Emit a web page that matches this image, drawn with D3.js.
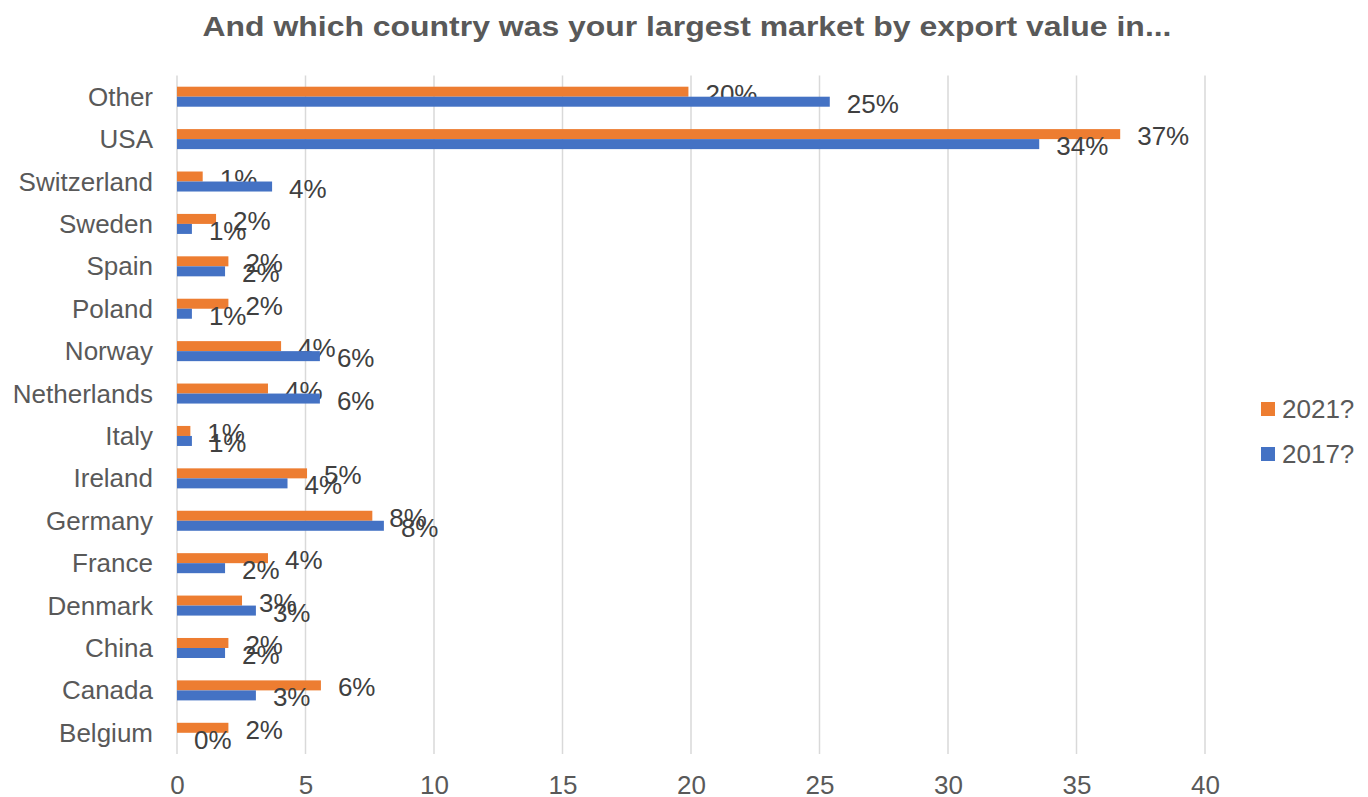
<!DOCTYPE html>
<html>
<head>
<meta charset="utf-8">
<script src="https://cdn.jsdelivr.net/npm/d3@7"></script>
<style>
    body { margin: 0; background: #fff; }
    text { font-family: "Liberation Sans", Arial, sans-serif; }
</style>
</head>
<body>
<script>
var countries = ["Other", "USA", "Switzerland", "Sweden", "Spain", "Poland", "Norway",
                 "Netherlands", "Italy", "Ireland", "Germany", "France", "Denmark",
                 "China", "Canada", "Belgium"];
var seriesNames = ["2021?", "2017?"];
var values2021 = [19.9, 36.7, 1.0, 1.52, 2.0, 2.0, 4.05, 3.54, 0.52, 5.06, 7.6, 3.54, 2.53, 2.0, 5.6, 2.0];
var values2017 = [25.4, 33.55, 3.7, 0.58, 1.87, 0.58, 5.56, 5.56, 0.58, 4.3, 8.05, 1.87, 3.07, 1.87, 3.07, 0];
var xTicks = [0, 5, 10, 15, 20, 25, 30, 35, 40];
var colors = ["#ED7D31", "#4472C4"];

(function() {
    var width = 1368,
        height = 797,
        plotLeft = 177,
        plotRight = 1205,
        plotTop = 75.5,
        plotBottom = 754,
        labelGap = 17,
        textColor = "#595959",
        labelColor = "#404040";

    var svg = d3.select("body").append("svg")
                .attr("width", width)
                .attr("height", height);

    var x = d3.scaleLinear()
              .domain([0, 40])
              .range([plotLeft, plotRight]);

    //inner/outer padding chosen so each category gets two 10px bars
    var y = d3.scaleBand()
              .domain(countries)
              .range([plotTop, plotBottom])
              .paddingInner(0.528)
              .paddingOuter(0.264);

    var ySub = d3.scaleBand()
                 .domain(seriesNames)
                 .range([0, y.bandwidth()]);

    var rows = countries.map(function(c, i) {
        return {country : c, values : [values2021[i], values2017[i]]};
    });

    // title
    svg.append("text")
       .attr("x", 687)
       .attr("y", 27)
       .attr("text-anchor", "middle")
       .attr("dominant-baseline", "central")
       .attr("textLength", 969)
       .attr("lengthAdjust", "spacingAndGlyphs")
       .style("font-size", "27px")
       .style("font-weight", "bold")
       .style("fill", textColor)
       .text("And which country was your largest market by export value in...");

    // vertical gridlines
    svg.append("g")
       .selectAll("line")
       .data(xTicks)
       .enter()
       .append("line")
       .attr("x1", function(d) {return x(d); })
       .attr("x2", function(d) {return x(d); })
       .attr("y1", plotTop)
       .attr("y2", plotBottom)
       .style("stroke", "#d9d9d9")
       .style("stroke-width", 1.5);

    // x axis labels
    var xAxis = svg.append("g")
                   .attr("transform", "translate(0," + 785 + ")")
                   .call(d3.axisBottom(x).tickValues(xTicks).tickSize(0).tickPadding(0));
    xAxis.select(".domain").remove();
    xAxis.selectAll("text")
         .attr("dy", null)
         .attr("y", 0)
         .attr("dominant-baseline", "central")
         .style("font-size", "26px")
         .style("font-family", "'Liberation Sans', Arial, sans-serif")
         .style("fill", textColor);

    // y axis labels
    var yAxis = svg.append("g")
                   .attr("transform", "translate(" + 153 + ",0)")
                   .call(d3.axisLeft(y).tickSize(0).tickPadding(0));
    yAxis.select(".domain").remove();
    yAxis.selectAll("text")
         .attr("dy", null)
         .attr("dominant-baseline", "central")
         .style("font-size", "26px")
         .style("font-family", "'Liberation Sans', Arial, sans-serif")
         .style("fill", textColor);

    var rowG = svg.selectAll(".row")
                  .data(rows)
                  .enter()
                  .append("g")
                  .attr("class", "row")
                  .attr("transform", function(d) {return "translate(0," + y(d.country) + ")"; });

    var cells = rowG.selectAll(".cell")
                    .data(function(d) {
                        return d.values.map(function(v, i) {
                            return {series : seriesNames[i], value : v, color : colors[i]};
                        });
                    })
                    .enter()
                    .append("g")
                    .attr("class", "cell");

    cells.append("rect")
         .attr("x", x(0))
         .attr("y", function(d) {return ySub(d.series); })
         .attr("width", function(d) {return x(d.value) - x(0); })
         .attr("height", ySub.bandwidth())
         .style("fill", function(d) {return d.color; });

    cells.append("text")
         .attr("x", function(d) {return x(d.value) + labelGap; })
         .attr("y", function(d) {return ySub(d.series) + ySub.bandwidth() / 2 + 2; })
         .attr("dominant-baseline", "central")
         .style("font-size", "26px")
         .style("fill", labelColor)
         .text(function(d) {return Math.round(d.value) + "%"; });

    // legend
    var legend = svg.selectAll(".legendItem")
                    .data(seriesNames)
                    .enter()
                    .append("g")
                    .attr("class", "legendItem")
                    .attr("transform", function(d, i) {return "translate(1261," + (409 + i * 45) + ")"; });

    legend.append("rect")
          .attr("y", -7)
          .attr("width", 14)
          .attr("height", 14)
          .style("fill", function(d, i) {return colors[i]; });

    legend.append("text")
          .attr("x", 21)
          .attr("dominant-baseline", "central")
          .style("font-size", "26px")
          .style("fill", textColor)
          .text(function(d) {return d; });
})();
</script>
</body>
</html>
